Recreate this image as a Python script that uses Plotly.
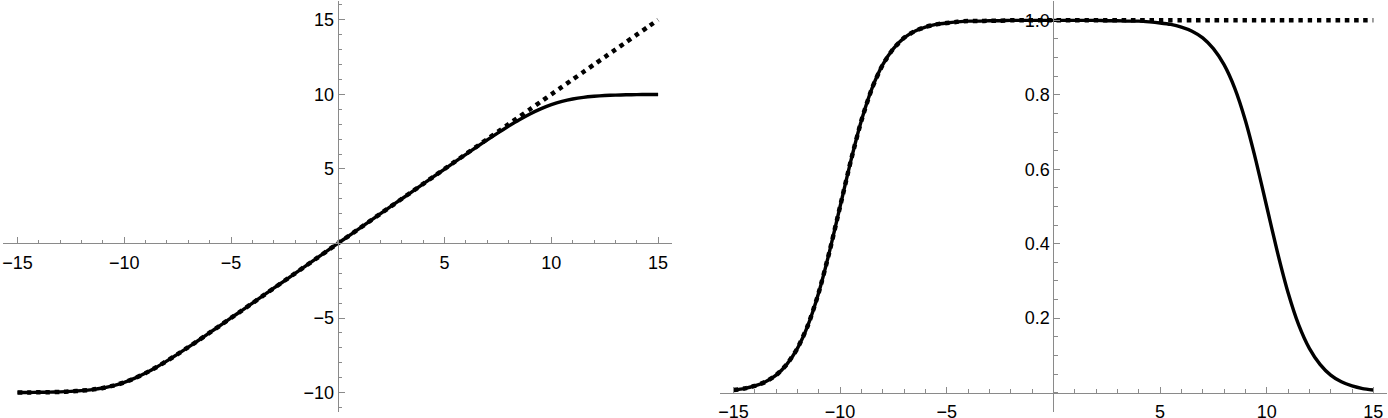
import plotly.graph_objects as go

# ---------------- data ----------------
x_vals = [-15, -14.5, -14, -13.5, -13, -12.5, -12, -11.5, -11, -10.5, -10, -9.5, -9, -8.5, -8,
          -7.5, -7, -6.5, -6, -5.5, -5, -4.5, -4, -3.5, -3, -2.5, -2, -1.5, -1, -0.5, 0,
          0.5, 1, 1.5, 2, 2.5, 3, 3.5, 4, 4.5, 5, 5.5, 6, 6.5, 7, 7.5, 8, 8.5, 9, 9.5, 10,
          10.5, 11, 11.5, 12, 12.5, 13, 13.5, 14, 14.5, 15]

left_solid = [-9.99, -9.99, -9.98, -9.97, -9.95, -9.92, -9.87, -9.80, -9.69, -9.53, -9.31, -9.03, -8.69, -8.30, -7.87,
              -7.42, -6.95, -6.47, -5.98, -5.49, -4.99, -4.50, -4.00, -3.50, -3.00, -2.50, -2.00, -1.50, -1.00, -0.50, 0.00,
              0.50, 1.00, 1.50, 2.00, 2.50, 3.00, 3.50, 4.00, 4.50, 4.99, 5.49, 5.98, 6.47, 6.95, 7.42, 7.87, 8.30, 8.69, 9.03, 9.31,
              9.53, 9.69, 9.80, 9.87, 9.92, 9.95, 9.97, 9.98, 9.99, 9.99]

left_dotted = [-9.99, -9.99, -9.98, -9.97, -9.95, -9.92, -9.87, -9.80, -9.69, -9.53, -9.31, -9.03, -8.69, -8.30, -7.87,
               -7.42, -6.95, -6.47, -5.98, -5.49, -4.99, -4.50, -4.00, -3.50, -3.00, -2.50, -2.00, -1.50, -1.00, -0.50, 0.00,
               0.50, 1.00, 1.50, 2.00, 2.50, 3.00, 3.50, 4.00, 4.50, 5.00, 5.50, 6.00, 6.50, 7.00, 7.50, 8.00, 8.50, 9.00, 9.50, 10.00,
               10.50, 11.00, 11.50, 12.00, 12.50, 13.00, 13.50, 14.00, 14.50, 15.00]

right_solid = [0.007, 0.011, 0.018, 0.029, 0.047, 0.076, 0.119, 0.182, 0.269, 0.378, 0.500, 0.622, 0.731, 0.818, 0.881,
               0.924, 0.953, 0.971, 0.982, 0.989, 0.993, 0.996, 0.998, 0.998, 0.999, 0.999, 1.000, 1.000, 1.000, 1.000, 1.000,
               1.000, 1.000, 1.000, 1.000, 0.999, 0.999, 0.998, 0.998, 0.996, 0.993, 0.989, 0.982, 0.971, 0.953, 0.924,
               0.881, 0.818, 0.731, 0.622, 0.500, 0.378, 0.269, 0.182, 0.119, 0.076, 0.047, 0.029, 0.018, 0.011, 0.007]

right_dotted = [0.007, 0.011, 0.018, 0.029, 0.047, 0.076, 0.119, 0.182, 0.269, 0.378, 0.500, 0.622, 0.731, 0.818, 0.881,
                0.924, 0.953, 0.971, 0.982, 0.989, 0.993, 0.996, 0.998, 0.998, 0.999, 0.999, 1.000, 1.000, 1.000, 1.000, 1.000,
                1.000, 1.000, 1.000, 1.000, 1.000, 1.000, 1.000, 1.000, 1.000, 1.000, 1.000, 1.000, 1.000, 1.000, 1.000,
                1.000, 1.000, 1.000, 1.000, 1.000, 1.000, 1.000, 1.000, 1.000, 1.000, 1.000, 1.000, 1.000, 1.000, 1.000]

left_xticks = [-15, -10, -5, 5, 10, 15]
left_yticks = [-10, -5, 5, 10, 15]
right_xticks = [-15, -10, -5, 5, 10, 15]
right_yticks = [0.2, 0.4, 0.6, 0.8, 1.0]

# ---------------- layout geometry ----------------
W, H = 1388, 418
AX = "#8a8a8a"
FONT = dict(family="Liberation Sans, Arial, sans-serif", size=18, color="black")

lx_rng = [-15.68, 15.65]
ly_rng = [-11.3, 16.26]
rx_rng = [-15.63, 15.64]
ry_rng = [-0.052, 1.052]
ydom = [6 / H, 417 / H]
lxdom = [3 / W, 672 / W]
rxdom = [720 / W, 1387 / W]


def zero_pos(rng, dom):
    return dom[0] + (0 - rng[0]) / (rng[1] - rng[0]) * (dom[1] - dom[0])


def mfmt(v, dec=0):
    s = f"{abs(v):.{dec}f}"
    return ("\u2212" + s) if v < 0 else s


fig = go.Figure()

solid = dict(color="black", width=3.4, shape="spline", smoothing=0.6)
dotted = dict(color="black", width=4.5, dash="4.5px,4.8px", shape="spline", smoothing=0.6)

fig.add_trace(go.Scatter(x=x_vals, y=left_solid, mode="lines", line=solid, xaxis="x", yaxis="y",
                         showlegend=False, hoverinfo="skip"))
fig.add_trace(go.Scatter(x=x_vals, y=left_dotted, mode="lines", line=dotted, xaxis="x", yaxis="y",
                         showlegend=False, hoverinfo="skip"))
fig.add_trace(go.Scatter(x=x_vals, y=right_solid, mode="lines", line=solid, xaxis="x2", yaxis="y2",
                         showlegend=False, hoverinfo="skip"))
fig.add_trace(go.Scatter(x=x_vals, y=right_dotted, mode="lines", line=dotted, xaxis="x2", yaxis="y2",
                         showlegend=False, hoverinfo="skip"))


def xaxis(rng, dom, ypos, ticks, minor_dtick):
    return dict(range=rng, domain=dom, anchor="free", position=ypos,
                showline=True, linecolor=AX, linewidth=1.2, zeroline=False, showgrid=False,
                tickmode="array", tickvals=ticks, ticktext=[mfmt(t) for t in ticks],
                ticks="inside", ticklen=6, tickwidth=1, tickcolor=AX, tickfont=FONT,
                ticklabelstandoff=3, automargin=False,
                minor=dict(ticks="inside", ticklen=3.5, tickwidth=1, tickcolor=AX,
                           tickmode="linear", tick0=0, dtick=minor_dtick, showgrid=False),
                fixedrange=True)


def yaxis(rng, dom, xpos, ticks, dec, minor_dtick):
    return dict(range=rng, domain=dom, anchor="free", position=xpos, side="left",
                showline=True, linecolor=AX, linewidth=1.2, zeroline=False, showgrid=False,
                tickmode="array", tickvals=ticks, ticktext=[mfmt(t, dec) for t in ticks],
                ticks="inside", ticklen=6, tickwidth=1, tickcolor=AX, tickfont=FONT,
                ticklabelstandoff=0, automargin=False,
                minor=dict(ticks="inside", ticklen=3.5, tickwidth=1, tickcolor=AX,
                           tickmode="linear", tick0=0, dtick=minor_dtick, showgrid=False),
                fixedrange=True)


fig.update_layout(
    width=W, height=H,
    margin=dict(l=0, r=0, t=0, b=0),
    paper_bgcolor="white", plot_bgcolor="white",
    xaxis=xaxis(lx_rng, lxdom, zero_pos(ly_rng, ydom), left_xticks, 1),
    yaxis=yaxis(ly_rng, ydom, zero_pos(lx_rng, lxdom), left_yticks, 0, 1),
    xaxis2=xaxis(rx_rng, rxdom, zero_pos(ry_rng, ydom), right_xticks, 1),
    yaxis2=yaxis(ry_rng, ydom, zero_pos(rx_rng, rxdom), right_yticks, 1, 0.05),
    showlegend=False,
)

fig.write_html("out.html", config={"displayModeBar": False},
               post_script="document.body.style.margin='0';document.body.style.overflow='hidden';")
